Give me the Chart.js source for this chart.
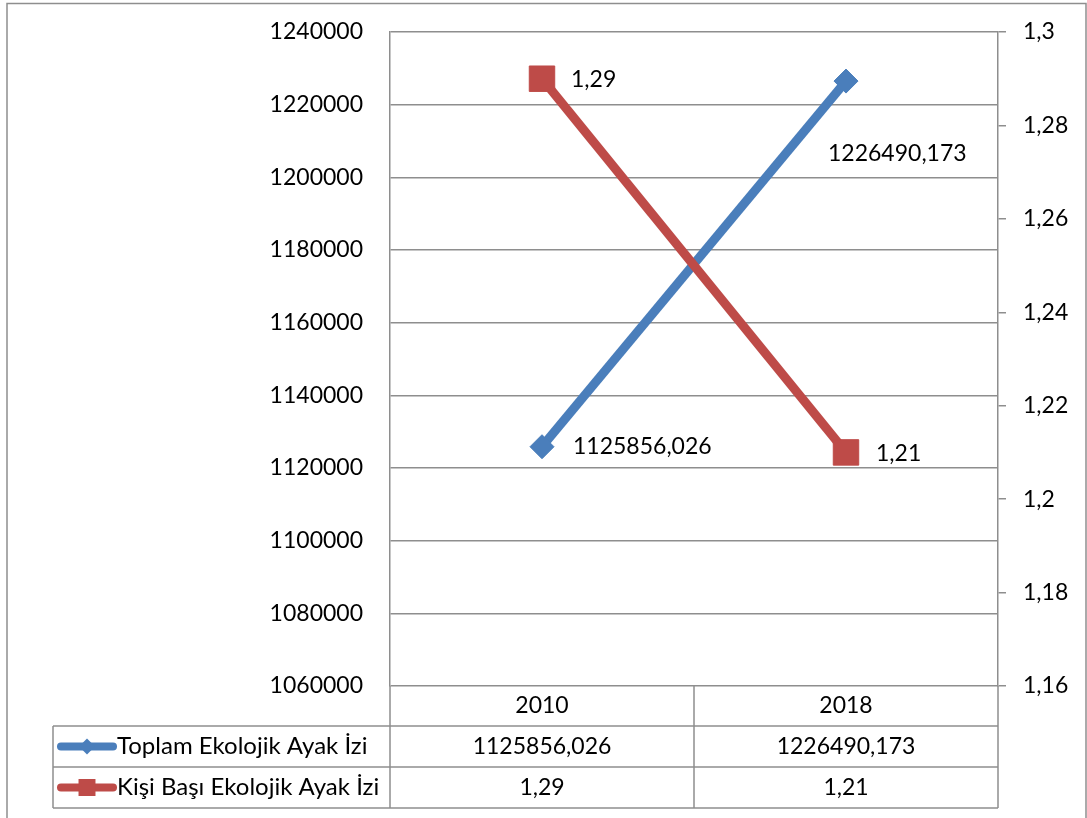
<!DOCTYPE html>
<html><head><meta charset="utf-8">
<script src="https://cdn.jsdelivr.net/npm/chart.js@4/dist/chart.umd.min.js"></script>
<style>html,body{margin:0;padding:0;background:#fff;}#wrap{width:1087px;height:818px;}</style>
</head><body><div id="wrap"><canvas id="c" width="1087" height="818"></canvas></div>
<script>
const years = ['2010', '2018'];
const seriesNames = ['Toplam Ekolojik Ayak İzi', 'Kişi Başı Ekolojik Ayak İzi'];
const toplam = [1125856.026, 1226490.173];
const kisiBasi = [1.29, 1.21];
const leftAxis = { min: 1060000, max: 1240000, step: 20000 };
const rightAxis = { min: 1.16, max: 1.3, step: 0.02 };

const BLUE = '#4A7EBB', RED = '#BE4B48', GRID = '#8e8e8e';
const FONT = 'Lato, "Open Sans", sans-serif';
const FS = 23;
const FS_LEG = 24;

const fmtToplam = v => v.toFixed(3).replace('.', ',');
const fmtKisi = v => String(parseFloat(v.toFixed(2))).replace('.', ',');

// label placement offsets (dx from point, dy from point) per dataset/point
const labelOffsets = [
  [[31, 0], [-18, 72]],
  [[29, 1], [30, 1]]
];

const borderPlugin = {
  id: 'outer',
  beforeDraw(chart) {
    const ctx = chart.ctx;
    ctx.save();
    ctx.fillStyle = '#fff';
    ctx.fillRect(0, 0, chart.width, chart.height);
    ctx.strokeStyle = GRID;
    ctx.lineWidth = 1.5;
    ctx.strokeRect(7, 3.5, 1079, 830);
    ctx.restore();
  }
};

const labelPlugin = {
  id: 'dlabels',
  afterDatasetsDraw(chart) {
    const ctx = chart.ctx;
    ctx.save();
    ctx.font = FS + 'px ' + FONT;
    ctx.fillStyle = '#000';
    ctx.textAlign = 'left';
    ctx.textBaseline = 'middle';
    const fmts = [fmtToplam, fmtKisi];
    chart.data.datasets.forEach((ds, di) => {
      const meta = chart.getDatasetMeta(di);
      meta.data.forEach((pt, i) => {
        const o = labelOffsets[di][i];
        ctx.fillText(fmts[di](ds.data[i]), pt.x + o[0], pt.y + o[1]);
      });
    });
    ctx.restore();
  }
};

const tablePlugin = {
  id: 'dtable',
  afterDraw(chart) {
    const ctx = chart.ctx, xs = chart.scales.x, a = chart.chartArea;
    const top = a.bottom, r1 = top + 40, r2 = r1 + 41, r3 = r2 + 41;
    const legLeft = 53;
    const n = years.length;
    const bounds = [a.left];
    for (let i = 0; i < n - 1; i++) bounds.push((xs.getPixelForTick(i) + xs.getPixelForTick(i + 1)) / 2);
    bounds.push(a.right);
    ctx.save();
    ctx.strokeStyle = GRID;
    ctx.lineWidth = 1.5;
    ctx.beginPath();
    bounds.forEach(b => { ctx.moveTo(b, top); ctx.lineTo(b, r3); });
    ctx.moveTo(legLeft, r1); ctx.lineTo(legLeft, r3);
    [r1, r2, r3].forEach(y => { ctx.moveTo(legLeft, y); ctx.lineTo(a.right, y); });
    ctx.stroke();

    ctx.font = FS + 'px ' + FONT;
    ctx.fillStyle = '#000';
    ctx.textAlign = 'center';
    ctx.textBaseline = 'middle';
    years.forEach((y, i) => {
      const cx = xs.getPixelForTick(i);
      ctx.fillText(y, cx, (top + r1) / 2);
      ctx.fillText(fmtToplam(toplam[i]), cx, (r1 + r2) / 2);
      ctx.fillText(fmtKisi(kisiBasi[i]), cx, (r2 + r3) / 2);
    });

    // legend keys
    const rows = [[(r1 + r2) / 2, BLUE, 'rectRot', 8], [(r2 + r3) / 2, RED, 'rect', 12]];
    ctx.font = FS_LEG + 'px ' + FONT;
    rows.forEach((r, i) => {
      const y = r[0];
      ctx.strokeStyle = r[1];
      ctx.lineWidth = 8;
      ctx.lineCap = 'round';
      ctx.beginPath();
      ctx.moveTo(legLeft + 8, y); ctx.lineTo(legLeft + 60, y);
      ctx.stroke();
      ctx.fillStyle = r[1];
      Chart.helpers.drawPoint(ctx, { pointStyle: r[2], radius: r[3], borderWidth: 0, rotation: 0 }, legLeft + 34, y);
      ctx.fillStyle = '#000';
      ctx.textAlign = 'left';
      ctx.fillText(seriesNames[i], legLeft + 64, y);
    });
    ctx.restore();
  }
};

new Chart(document.getElementById('c'), {
  type: 'line',
  data: {
    labels: years,
    datasets: [
      { label: seriesNames[0], data: toplam, yAxisID: 'yL', borderColor: BLUE, backgroundColor: BLUE,
        borderWidth: 9, pointStyle: 'rectRot', pointRadius: 12, pointBorderWidth: 1, order: 1 },
      { label: seriesNames[1], data: kisiBasi, yAxisID: 'yR', borderColor: RED, backgroundColor: RED,
        borderWidth: 9, pointStyle: 'rect', pointRadius: 18, pointBorderWidth: 1, order: 0 }
    ]
  },
  options: {
    responsive: false,
    devicePixelRatio: 1,
    animation: false,
    layout: { padding: { left: 0, right: 0, top: 32, bottom: 132 } },
    plugins: { legend: { display: false }, tooltip: { enabled: false } },
    scales: {
      x: { type: 'category', offset: true, display: false },
      yL: {
        position: 'left', min: leftAxis.min, max: leftAxis.max,
        afterFit(s) { s.width = 390; s.paddingTop = 0; s.paddingBottom = 0; },
        grid: { color: GRID, lineWidth: 1.5, drawTicks: false },
        border: { display: true, color: GRID, width: 1.5 },
        ticks: { stepSize: leftAxis.step, padding: 27, color: '#000', font: { family: FONT, size: FS },
          callback: v => String(Math.round(v)) }
      },
      yR: {
        position: 'right', min: rightAxis.min, max: rightAxis.max,
        afterFit(s) { s.width = 89; s.paddingTop = 0; s.paddingBottom = 0; },
        grid: { drawOnChartArea: false, color: GRID, lineWidth: 1.5, drawTicks: true, tickLength: 8 },
        border: { display: true, color: GRID, width: 1.5 },
        ticks: { stepSize: rightAxis.step, padding: 17, color: '#000', font: { family: FONT, size: FS },
          callback: v => fmtKisi(v) }
      }
    }
  },
  plugins: [borderPlugin, labelPlugin, tablePlugin]
});
</script></body></html>
